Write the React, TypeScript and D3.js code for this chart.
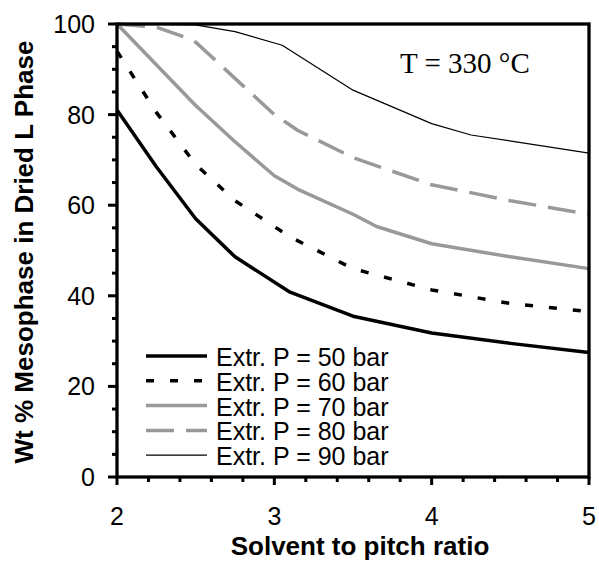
import * as d3 from "d3";

// x = solvent to pitch ratio, y = wt % mesophase
const ratio50 = [2, 2.25, 2.5, 2.75, 3.1, 3.5, 4, 4.5, 5];
const wt50 = [81, 68.5, 57, 48.6, 40.8, 35.5, 31.8, 29.5, 27.5];
const ratio60 = [2, 2.25, 2.5, 2.75, 3.1, 3.5, 4, 4.5, 5];
const wt60 = [94, 80.5, 69, 61, 53, 46, 41.3, 38.3, 36.5];
const ratio70 = [2, 2.25, 2.5, 2.75, 3, 3.15, 3.5, 3.65, 4, 4.5, 5];
const wt70 = [100, 91, 82, 74, 66.5, 63.5, 58, 55.3, 51.5, 48.6, 46];
const ratio80 = [2, 2.25, 2.4, 2.5, 2.75, 3, 3.15, 3.5, 4, 4.5, 5];
const wt80 = [100, 99.3, 97.5, 96, 88, 80, 76.5, 70.5, 64.5, 61, 58];
const ratio90 = [2, 2.5, 2.75, 3.05, 3.5, 4, 4.25, 5];
const wt90 = [100, 99.8, 98.3, 95.3, 85.4, 78, 75.5, 71.5];

const seriesNames = [
  "Extr. P = 50 bar",
  "Extr. P = 60 bar",
  "Extr. P = 70 bar",
  "Extr. P = 80 bar",
  "Extr. P = 90 bar",
];
const xTickLabels = [2, 3, 4, 5];
const yTickLabels = [0, 20, 40, 60, 80, 100];

const width = 599,
  height = 564;
const marginLeft = 117,
  marginTop = 24,
  plotW = 472,
  plotH = 453;

const styles = [
  { stroke: "#000", width: 3.5, dash: null },
  { stroke: "#000", width: 3.5, dash: "8 16" },
  { stroke: "#999", width: 3.5, dash: null },
  { stroke: "#999", width: 3.5, dash: "28 12" },
  { stroke: "#000", width: 1.2, dash: null },
];

export default function App() {
  const xScale = d3.scaleLinear().domain([2, 5]).range([0, plotW]);
  const yScale = d3.scaleLinear().domain([0, 100]).range([plotH, 0]);

  const series = [
    d3.zip(ratio50, wt50),
    d3.zip(ratio60, wt60),
    d3.zip(ratio70, wt70),
    d3.zip(ratio80, wt80),
    d3.zip(ratio90, wt90),
  ];

  const line = d3
    .line<number[]>()
    .x((d) => xScale(d[0]))
    .y((d) => yScale(d[1]));

  const xMinor = d3.range(2, 5.001, 0.2);
  const yMinor = d3.range(0, 100.001, 5);

  const legendX = 29,
    legendY = 356 - marginTop,
    legendStep = 24.8,
    legendLen = 61;

  return (
    <svg
      width={width}
      height={height}
      style={{ position: "absolute", left: 0, top: 0, background: "#fff" }}
    >
      <g transform={`translate(${marginLeft} ${marginTop})`}>
        {series.map((s, i) => (
          <path
            key={i}
            d={line(s) ?? ""}
            fill="none"
            stroke={styles[i].stroke}
            strokeWidth={styles[i].width}
            strokeDasharray={styles[i].dash ?? undefined}
            strokeLinejoin="round"
          />
        ))}

        {/* frame */}
        <rect
          x={0}
          y={0}
          width={plotW}
          height={plotH}
          fill="none"
          stroke="#000"
          strokeWidth={3.3}
        />

        {/* y ticks */}
        {yMinor.map((v) => {
          const major = Math.round(v) % 20 === 0;
          return (
            <line
              key={"y" + v}
              x1={major ? -9 : -5}
              x2={0}
              y1={yScale(v)}
              y2={yScale(v)}
              stroke="#000"
              strokeWidth={3}
            />
          );
        })}
        {yTickLabels.map((v) => (
          <text
            key={"yl" + v}
            x={-22}
            y={yScale(v)}
            textAnchor="end"
            dominantBaseline="central"
            fontFamily="'Liberation Sans', Arial, sans-serif"
            fontSize={25}
          >
            {v}
          </text>
        ))}

        {/* x ticks */}
        {xMinor.map((v) => {
          const major = Math.abs(v - Math.round(v)) < 1e-6;
          return (
            <line
              key={"x" + v}
              x1={xScale(v)}
              x2={xScale(v)}
              y1={plotH}
              y2={plotH + (major ? 8 : 5)}
              stroke="#000"
              strokeWidth={3}
            />
          );
        })}
        {xTickLabels.map((v) => (
          <text
            key={"xl" + v}
            x={xScale(v)}
            y={525 - marginTop}
            textAnchor="middle"
            fontFamily="'Liberation Sans', Arial, sans-serif"
            fontSize={25}
          >
            {v}
          </text>
        ))}

        {/* legend */}
        {seriesNames.map((name, i) => (
          <g key={name} transform={`translate(${legendX} ${legendY + i * legendStep})`}>
            <line
              x1={0}
              x2={legendLen}
              y1={0}
              y2={0}
              stroke={styles[i].stroke}
              strokeWidth={styles[i].width}
              strokeDasharray={styles[i].dash ?? undefined}
            />
            <text
              x={legendLen + 9}
              y={1}
              dominantBaseline="central"
              fontFamily="'Liberation Sans', Arial, sans-serif"
              fontSize={25}
            >
              {name}
            </text>
          </g>
        ))}

        <text
          x={400 - marginLeft}
          y={73 - marginTop}
          fontFamily="'Liberation Serif', 'Times New Roman', serif"
          fontSize={29}
        >
          T = 330 °C
        </text>
      </g>

      <text
        x={marginLeft + plotW / 2 + 7}
        y={555}
        textAnchor="middle"
        fontFamily="'Liberation Sans', Arial, sans-serif"
        fontWeight="bold"
        fontSize={26}
      >
        Solvent to pitch ratio
      </text>
      <text
        transform={`translate(33 ${252}) rotate(-90)`}
        textAnchor="middle"
        fontFamily="'Liberation Sans', Arial, sans-serif"
        fontWeight="bold"
        fontSize={26}
      >
        Wt % Mesophase in Dried L Phase
      </text>
    </svg>
  );
}
